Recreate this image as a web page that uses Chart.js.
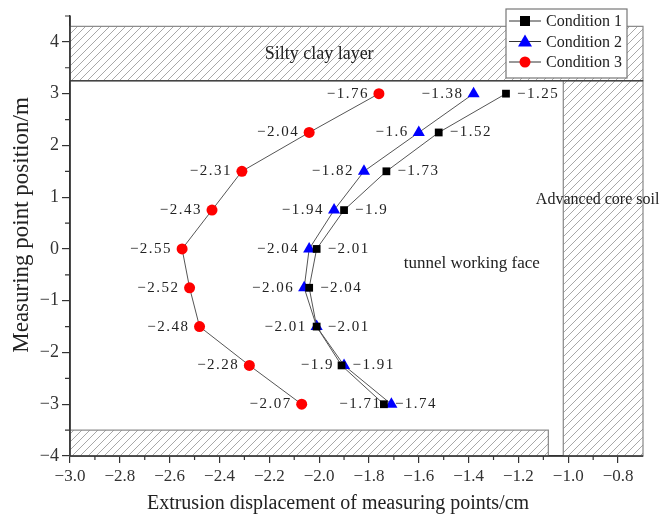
<!DOCTYPE html>
<html><head><meta charset="utf-8">
<script src="https://cdn.jsdelivr.net/npm/chart.js@4.4.1/dist/chart.umd.min.js"></script>
<style>html,body{margin:0;padding:0;background:#fff}#wrap{width:663px;height:522px;position:relative}</style>
</head><body><div id="wrap"><canvas id="c"></canvas></div>
<script>
// ── data ───────────────────────────────────────────────
const positions=[3,2.25,1.5,0.75,0,-0.75,-1.5,-2.25,-3];
const cond1=[-1.25,-1.52,-1.73,-1.9,-2.01,-2.04,-2.01,-1.91,-1.74];
const cond2=[-1.38,-1.6,-1.82,-1.94,-2.04,-2.06,-2.01,-1.9,-1.71];
const cond3=[-1.76,-2.04,-2.31,-2.43,-2.55,-2.52,-2.48,-2.28,-2.07];
const seriesNames=['Condition 1','Condition 2','Condition 3'];
const xTicks=[-3,-2.8,-2.6,-2.4,-2.2,-2,-1.8,-1.6,-1.4,-1.2,-1,-0.8];
const yTicks=[-4,-3,-2,-1,0,1,2,3,4];
const xTitle='Extrusion displacement of measuring points/cm';
const yTitle='Measuring point position/m';
// hatched soil zones, in data units
const zones=[
  {x0:-3,x1:-0.7,y0:3.25,y1:4.3},
  {x0:-1.02,x1:-0.7,y0:-4,y1:3.25},
  {x0:-3,x1:-1.08,y0:-4,y1:-3.5}
];
const notes=[
  {t:'Silty clay layer',x:-2.0,y:3.77,align:'center',size:18},
  {t:'Advanced core soil',x:-1.13,y:0.94,align:'left',size:16},
  {t:'tunnel working face',x:-1.66,y:-0.28,align:'left',size:17}
];

const SERIF="'Liberation Serif','Times New Roman',serif";
const fmt=v=>(v<0?'\u2212':'')+Math.abs(v).toString();
const pts=arr=>arr.map((v,i)=>({x:v,y:positions[i]}));

function hatch(ctx){
  const p=document.createElement('canvas');p.width=8;p.height=8;
  const g=p.getContext('2d');
  g.strokeStyle='#a8a8a8';g.lineWidth=1;
  g.beginPath();g.moveTo(0,8);g.lineTo(8,0);g.moveTo(-4,4);g.lineTo(4,-4);g.moveTo(4,12);g.lineTo(12,4);g.stroke();
  return ctx.createPattern(p,'repeat');
}

const zonesPlugin={
  id:'zones',
  beforeDatasetsDraw(chart){
    const {ctx,scales:{x,y}}=chart;
    ctx.save();
    const pat=hatch(ctx);
    zones.forEach(z=>{
      const l=x.getPixelForValue(z.x0),r=x.getPixelForValue(z.x1);
      const t=y.getPixelForValue(z.y1),b=y.getPixelForValue(z.y0);
      ctx.fillStyle='#fff';ctx.fillRect(l,t,r-l,b-t);
      ctx.fillStyle=pat;ctx.fillRect(l,t,r-l,b-t);
      ctx.strokeStyle='#888';ctx.lineWidth=1.2;ctx.strokeRect(l,t,r-l,b-t);
    });
    // dark boundary under the clay layer
    ctx.strokeStyle='#444';ctx.lineWidth=1.5;ctx.beginPath();
    ctx.moveTo(x.getPixelForValue(zones[0].x0),y.getPixelForValue(zones[0].y0));
    ctx.lineTo(x.getPixelForValue(zones[0].x1),y.getPixelForValue(zones[0].y0));ctx.stroke();
    ctx.fillStyle='#222';ctx.textBaseline='middle';
    notes.forEach(n=>{
      ctx.font=n.size+'px '+SERIF;ctx.textAlign=n.align;
      ctx.fillText(n.t,x.getPixelForValue(n.x),y.getPixelForValue(n.y));
    });
    ctx.restore();
  },
  afterDatasetsDraw(chart){
    const {ctx}=chart;
    ctx.save();
    ctx.font='15px '+SERIF;ctx.fillStyle='#222';ctx.textBaseline='middle';
    try{ctx.letterSpacing='1.5px';}catch(e){}
    chart.data.datasets.forEach((ds,di)=>{
      const meta=chart.getDatasetMeta(di);
      meta.data.forEach((el,i)=>{
        const txt=fmt(ds.data[i].x);
        if(ds.labelSide==='right'){ctx.textAlign='left';ctx.fillText(txt,el.x+11,el.y);}
        else{ctx.textAlign='right';ctx.fillText(txt,el.x-10,el.y);}
      });
    });
    ctx.restore();
  },
  afterDraw(chart){
    const {ctx,scales:{x,y}}=chart;
    ctx.save();
    // axis lines on top of the zone fills
    ctx.strokeStyle='#333';ctx.lineWidth=1.5;ctx.beginPath();
    ctx.moveTo(x.left,y.top);ctx.lineTo(x.left,y.bottom);ctx.lineTo(x.right,y.bottom);ctx.stroke();
    ctx.lineWidth=1.2;ctx.beginPath();
    for(let v=-3;v<=-0.75;v+=0.1){
      const r=Math.round(v*10)/10;
      if(xTicks.some(t=>Math.abs(t-r)<1e-6)) continue;
      const px=x.getPixelForValue(r);ctx.moveTo(px,y.bottom);ctx.lineTo(px,y.bottom+4);
    }
    for(let v=-3.5;v<=4.5;v+=1){
      const py=y.getPixelForValue(v);ctx.moveTo(x.left,py);ctx.lineTo(x.left-5,py);
    }
    ctx.stroke();
    // axis titles (offset from the axis centre, as in the source figure)
    ctx.fillStyle='#222';ctx.textAlign='center';ctx.textBaseline='middle';
    ctx.font='20px '+SERIF;
    ctx.fillText(xTitle,338,504);
    ctx.save();ctx.translate(22,225);ctx.rotate(-Math.PI/2);
    ctx.font='23px '+SERIF;ctx.fillText(yTitle,0,0);ctx.restore();
    // legend: line-marker-line
    const bx=506,by=9,bw=121,bh=69;
    ctx.fillStyle='#fff';ctx.fillRect(bx,by,bw,bh);
    ctx.strokeStyle='#777';ctx.lineWidth=1.2;ctx.strokeRect(bx,by,bw,bh);
    ctx.font='16px '+SERIF;ctx.textBaseline='middle';ctx.textAlign='left';
    chart.data.datasets.forEach((ds,i)=>{
      const ly=by+12+i*20.5;
      ctx.strokeStyle='#333';ctx.lineWidth=1;ctx.beginPath();
      ctx.moveTo(bx+3,ly);ctx.lineTo(bx+35,ly);ctx.stroke();
      ctx.fillStyle=ds.pointBackgroundColor;ctx.beginPath();
      const cx=bx+19;
      if(ds.pointStyle==='rect'){ctx.rect(cx-5,ly-5,10,10);}
      else if(ds.pointStyle==='triangle'){ctx.moveTo(cx,ly-7);ctx.lineTo(cx+7,ly+5);ctx.lineTo(cx-7,ly+5);ctx.closePath();}
      else{ctx.arc(cx,ly,5.5,0,Math.PI*2);}
      ctx.fill();
      ctx.fillStyle='#222';ctx.fillText(ds.label,bx+40,ly+1);
    });
    ctx.restore();
  }
};

const common={showLine:true,borderColor:'#555',borderWidth:1,pointBorderWidth:0,pointHoverRadius:6};
new Chart(document.getElementById('c'),{
  type:'scatter',
  data:{datasets:[
    {...common,label:seriesNames[0],data:pts(cond1),pointStyle:'rect',pointRadius:5.5,pointBackgroundColor:'#000',pointBorderColor:'#000',labelSide:'right'},
    {...common,label:seriesNames[1],data:pts(cond2),pointStyle:'triangle',pointRadius:7,pointBackgroundColor:'#0000ff',pointBorderColor:'#0000ff',labelSide:'left'},
    {...common,label:seriesNames[2],data:pts(cond3),pointStyle:'circle',pointRadius:5.5,pointBackgroundColor:'#ff0000',pointBorderColor:'#ff0000',labelSide:'left'}
  ]},
  options:{
    responsive:true,maintainAspectRatio:false,animation:false,
    layout:{padding:{top:16,right:20,left:0,bottom:0}},
    plugins:{legend:{display:false},tooltip:{enabled:false}},
    scales:{
      x:{type:'linear',min:-3,max:-0.7,
        afterBuildTicks:s=>{s.ticks=xTicks.map(v=>({value:v}));},
        afterFit:s=>{s.height=66;},
        border:{color:'#333',width:1.5},
        grid:{drawOnChartArea:false,tickLength:7,color:'#333',lineWidth:1.2},
        ticks:{color:'#333',font:{family:SERIF,size:17},padding:3,maxRotation:0,autoSkip:false,
          callback:v=>(v<0?'\u2212':'')+Math.abs(v).toFixed(1)},
        title:{display:false}
      },
      y:{type:'linear',min:-4,max:4.5,
        afterBuildTicks:s=>{s.ticks=yTicks.map(v=>({value:v}));},
        afterFit:s=>{s.width=70;},
        border:{color:'#333',width:1.5},
        grid:{drawOnChartArea:false,tickLength:8,color:'#333',lineWidth:1.2},
        ticks:{color:'#333',font:{family:SERIF,size:18},padding:3,
          callback:v=>(v<0?'\u2212':'')+Math.abs(v)},
        title:{display:false}
      }
    }
  },
  plugins:[zonesPlugin]
});
</script></body></html>
